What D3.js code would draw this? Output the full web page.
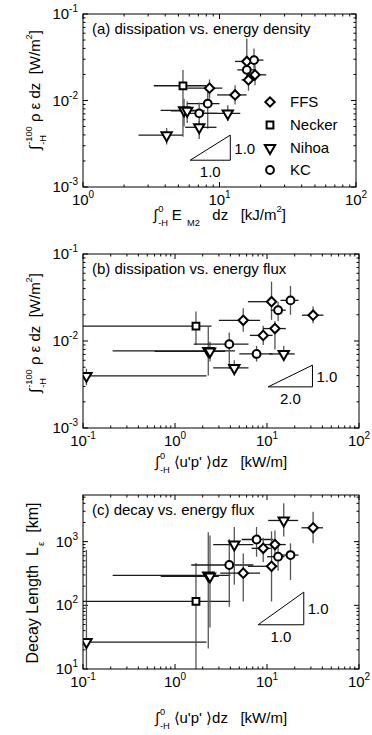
<!DOCTYPE html>
<html>
<head>
<meta charset="utf-8">
<script src="https://cdn.jsdelivr.net/npm/d3@7"></script>
<style>
body { margin: 0; background: #fff; }
svg { font-family: "Liberation Sans", Arial, sans-serif; }
text { white-space: pre; }
</style>
</head>
<body>
<svg width="372" height="735"></svg>
<script>
// legend / site names
var sites = ["FFS", "Necker", "Nihoa", "KC"];

// one entry per station (15 stations)
var stationSite = ["Nihoa", "Necker", "Nihoa", "Nihoa", "KC", "Nihoa", "FFS", "KC", "FFS", "FFS", "Nihoa", "FFS", "KC", "KC", "FFS"];

// depth-integrated M2 energy density [kJ/m^2]
var energyDensity   = [4.1, 5.4, 5.5, 5.8, 8.2, 7.1, 16.3, 7.1, 13.0, 8.45, 11.5, 15.85, 17.9, 15.85, 18.2];
var energyDensityLo = [2.55, 3.3, 3.7, 4.4, 5.8, 5.6, 14.5, 5.4, 9.6, 5.8, 7.2, 13.0, 15.0, 13.5, 16.0];
var energyDensityHi = [5.4, 8.0, 7.3, 7.8, 10.0, 9.5, 18.5, 9.6, 15.8, 10.5, 14.2, 19.0, 21.0, 18.5, 22.0];

// depth-integrated dissipation [W/m^2]
var dissipation   = [0.00397, 0.0148, 0.0077, 0.0076, 0.0092, 0.0049, 0.0173, 0.0071, 0.0116, 0.0139, 0.0071, 0.0283, 0.0293, 0.0226, 0.0198];
var dissipationLoA = [0.0031, 0.0038, 0.0050, 0.0055, 0.0047, 0.0036, 0.0130, 0.0052, 0.0090, 0.0105, 0.0058, 0.0175, 0.022, 0.016, 0.015];
var dissipationHiA = [0.0048, 0.0225, 0.0105, 0.0098, 0.0130, 0.0058, 0.0225, 0.0095, 0.0150, 0.0175, 0.0088, 0.052, 0.040, 0.030, 0.026];
var dissipationLoB = [0.0031, 0.0090, 0.0040, 0.0058, 0.0048, 0.0040, 0.0128, 0.0058, 0.0090, 0.0080, 0.0060, 0.0175, 0.020, 0.017, 0.016];
var dissipationHiB = [0.0048, 0.0218, 0.0145, 0.0098, 0.0125, 0.0060, 0.0238, 0.0088, 0.0150, 0.0170, 0.0088, 0.048, 0.043, 0.028, 0.025];

// depth-integrated energy flux [kW/m]
var energyFlux    = [0.109, 1.69, 2.3, 2.4, 3.89, 4.41, 5.52, 7.7, 9.1, 12.2, 15.2, 11.2, 18.0, 13.2, 31.7];
var energyFluxLoB = [0.05, 0.05, 0.21, 0.6, 1.6, 2.6, 3.0, 5.0, 6.5, 9.0, 10.5, 6.2, 14.0, 11.0, 24.0];
var energyFluxHiB = [2.2, 2.5, 4.5, 3.5, 6.3, 6.3, 8.4, 11.5, 11.5, 16.0, 20.0, 12.0, 22.0, 16.0, 41.0];
var energyFluxLoC = [0.05, 0.05, 0.21, 0.7, 1.5, 2.6, 3.1, 5.3, 6.8, 9.0, 10.3, 6.2, 14.0, 10.0, 23.7];
var energyFluxHiC = [2.2, 4.0, 4.0, 3.0, 7.1, 7.1, 8.4, 11.7, 11.0, 16.0, 21.8, 13.0, 22.0, 15.5, 40.6];

// decay length [km]
var decayLength   = [26.5, 115, 295, 285, 430, 900, 320, 1080, 785, 900, 2150, 410, 615, 580, 1650];
var decayLengthLo = [5, 5, 21, 45, 95, 210, 115, 580, 480, 550, 1200, 115, 250, 350, 940];
var decayLengthHi = [740, 460, 1400, 1250, 1100, 1700, 650, 1700, 1150, 1500, 4000, 1450, 940, 900, 2950];

// slope triangles
var slopeAX = [6.1, 12.0],  slopeAY = [0.00204, 0.00398];
var slopeBX = [10.3, 31.2], slopeBY = [0.00297, 0.00528];
var slopeCX = [8.0, 25.1],  slopeCY = [49.5, 161];

var svg = d3.select("svg");

var symbolFor = {
  FFS:    {type: d3.symbolSquare,   size: 44, rot: 45},
  Necker: {type: d3.symbolSquare,   size: 46, rot: 0},
  Nihoa:  {type: d3.symbolTriangle, size: 46, rot: 180},
  KC:     {type: d3.symbolCircle,   size: 48, rot: 0}
};

// text with sub / superscripts; "stack" puts a superscript above the previous subscript
function rich(sel, parts, size) {
  var t = sel.append("text").attr("font-size", size);
  var level = 0, subW = 0;
  parts.forEach(function(p) {
    var kind = p[1] || "n";
    var target = kind === "sub" ? 6 : (kind === "sup" || kind === "stack") ? -8 : 0;
    var ts = t.append("tspan").text(p[0]).attr("dy", target - level);
    if (kind !== "n") ts.attr("font-size", size * 0.62);
    if (kind === "sub") ts.attr("dx", 1);
    if (kind === "stack") ts.attr("dx", -subW);
    var w = ts.node().getComputedTextLength();
    if (kind === "stack" && w < subW) t.append("tspan").text("").attr("dx", subW - w);
    subW = w;
    level = target;
  });
  if (level !== 0) t.append("tspan").text("").attr("dy", -level);
  return t;
}

function drawPanel(o) {
  var x = d3.scaleLog().domain(o.xDomain).range([o.left, o.right]);
  var y = d3.scaleLog().domain(o.yDomain).range([o.bottom, o.top]);
  var g = svg.append("g");

  g.append("clipPath").attr("id", "clip" + o.id)
    .append("rect").attr("x", o.left).attr("y", o.top)
    .attr("width", o.right - o.left).attr("height", o.bottom - o.top);

  // ticks (inside, all four sides)
  function isMajor(v) { var l = Math.log10(v); return Math.abs(l - Math.round(l)) < 1e-6; }
  x.ticks().forEach(function(v) {
    var len = isMajor(v) ? 5 : 2.5;
    g.append("line").attr("x1", x(v)).attr("x2", x(v)).attr("y1", o.bottom).attr("y2", o.bottom - len).attr("stroke", "#000");
    g.append("line").attr("x1", x(v)).attr("x2", x(v)).attr("y1", o.top).attr("y2", o.top + len).attr("stroke", "#000");
    if (isMajor(v)) {
      var e = Math.round(Math.log10(v));
      var lab = g.append("text").attr("x", x(v)).attr("y", o.bottom + 18)
        .attr("text-anchor", "middle").attr("font-size", 15);
      lab.append("tspan").text("10");
      lab.append("tspan").text(String(e)).attr("font-size", 10).attr("dy", -7);
    }
  });
  y.ticks().forEach(function(v) {
    var len = isMajor(v) ? 5 : 2.5;
    g.append("line").attr("y1", y(v)).attr("y2", y(v)).attr("x1", o.left).attr("x2", o.left + len).attr("stroke", "#000");
    g.append("line").attr("y1", y(v)).attr("y2", y(v)).attr("x1", o.right).attr("x2", o.right - len).attr("stroke", "#000");
    if (isMajor(v)) {
      var e = Math.round(Math.log10(v));
      var lab = g.append("text").attr("x", o.left - 5).attr("y", y(v) + 5)
        .attr("text-anchor", "end").attr("font-size", 15);
      lab.append("tspan").text("10");
      lab.append("tspan").text(String(e)).attr("font-size", 10).attr("dy", -7);
    }
  });

  // error bars
  var eb = g.append("g").attr("clip-path", "url(#clip" + o.id + ")");
  o.xs.forEach(function(xv, i) {
    var yv = o.ys[i];
    eb.append("line").attr("x1", x(o.xLo[i])).attr("x2", x(o.xHi[i]))
      .attr("y1", y(yv)).attr("y2", y(yv)).attr("stroke", "#1a1a1a").attr("stroke-width", 1.3);
    eb.append("line").attr("x1", x(xv)).attr("x2", x(xv))
      .attr("y1", y(o.yLo[i])).attr("y2", y(o.yHi[i])).attr("stroke", "#555").attr("stroke-width", 1.3);
  });

  // markers
  eb.selectAll("path.mk").data(o.xs).enter().append("path")
    .attr("class", "mk")
    .attr("d", function(d, i) { var s = symbolFor[stationSite[i]]; return d3.symbol().type(s.type).size(s.size)(); })
    .attr("transform", function(d, i) {
      return "translate(" + x(d) + "," + y(o.ys[i]) + ") rotate(" + symbolFor[stationSite[i]].rot + ")";
    })
    .attr("fill", "#fff").attr("stroke", "#000").attr("stroke-width", 2);

  // box
  g.append("rect").attr("x", o.left).attr("y", o.top)
    .attr("width", o.right - o.left).attr("height", o.bottom - o.top)
    .attr("fill", "none").attr("stroke", "#000").attr("stroke-width", 1);

  // title
  g.append("text").attr("x", o.left + 9).attr("y", o.top + 20).attr("font-size", 15).text(o.title);

  // slope triangle
  var sx = o.slopeX, sy = o.slopeY;
  g.append("path")
    .attr("d", "M" + x(sx[0]) + "," + y(sy[0]) + "L" + x(sx[1]) + "," + y(sy[1]) + "L" + x(sx[1]) + "," + y(sy[0]) + "Z")
    .attr("fill", "none").attr("stroke", "#000").attr("stroke-width", 1);
  g.append("text").attr("x", x(sx[1]) + 4).attr("y", (y(sy[0]) + y(sy[1])) / 2 + 6)
    .attr("font-size", 15).text(o.slopeLabels[0]);
  g.append("text").attr("x", (x(sx[0]) + x(sx[1])) / 2).attr("y", y(sy[0]) + 17)
    .attr("text-anchor", "middle").attr("font-size", 15).text(o.slopeLabels[1]);

  // axis labels
  rich(g, o.xLabel, 15).attr("x", (o.left + o.right) / 2).attr("y", o.xLabelY).attr("text-anchor", "middle");
  rich(g.append("g").attr("transform", "translate(" + o.yLabelX + "," + o.yLabelY + ") rotate(-90)"), o.yLabel, o.yLabelSize || 15)
    .attr("text-anchor", "middle");

  return {x: x, y: y, g: g};
}

var dissLabel = [["\u222B"], ["-H", "sub"], ["-100", "stack"], [" \u03C1 \u03B5 dz  [W/m"], ["2", "sup"], ["]"]];
var fluxLabel = [["\u222B"], ["-H", "sub"], ["0", "stack"], ["  \u27E8u'p' \u27E9dz   [kW/m]"]];

var pa = drawPanel({
  id: "a", left: 83, right: 356, top: 14, bottom: 187,
  xDomain: [1, 100], yDomain: [1e-3, 1e-1],
  xs: energyDensity, xLo: energyDensityLo, xHi: energyDensityHi,
  ys: dissipation, yLo: dissipationLoA, yHi: dissipationHiA,
  title: "(a) dissipation vs. energy density",
  slopeX: slopeAX, slopeY: slopeAY, slopeLabels: ["1.0", "1.0"],
  xLabel: [["\u222B"], ["-H", "sub"], ["0", "stack"], ["  E "], ["M2", "sub"], ["   dz   [kJ/m"], ["2", "sup"], ["]"]],
  xLabelY: 220, yLabel: dissLabel, yLabelX: 40, yLabelY: 90
});

drawPanel({
  id: "b", left: 83, right: 359, top: 254, bottom: 428,
  xDomain: [0.1, 100], yDomain: [1e-3, 1e-1],
  xs: energyFlux, xLo: energyFluxLoB, xHi: energyFluxHiB,
  ys: dissipation, yLo: dissipationLoB, yHi: dissipationHiB,
  title: "(b) dissipation vs. energy flux",
  slopeX: slopeBX, slopeY: slopeBY, slopeLabels: ["1.0", "2.0"],
  xLabel: fluxLabel, xLabelY: 467, yLabel: dissLabel, yLabelX: 40, yLabelY: 333
});

drawPanel({
  id: "c", left: 83, right: 359, top: 495, bottom: 669,
  xDomain: [0.1, 100], yDomain: [10, 5400],
  xs: energyFlux, xLo: energyFluxLoC, xHi: energyFluxHiC,
  ys: decayLength, yLo: decayLengthLo, yHi: decayLengthHi,
  title: "(c) decay vs. energy flux",
  slopeX: slopeCX, slopeY: slopeCY, slopeLabels: ["1.0", "1.0"],
  xLabel: fluxLabel, xLabelY: 723,
  yLabel: [["Decay Length  L"], ["\u03B5", "sub"], ["  [km]"]], yLabelSize: 16, yLabelX: 38, yLabelY: 583
});

// legend in panel (a)
var leg = pa.g.append("g");
sites.forEach(function(s, i) {
  var yy = [102, 125, 148, 170][i];
  var sym = symbolFor[s];
  leg.append("path").attr("d", d3.symbol().type(sym.type).size(sym.size)())
    .attr("transform", "translate(270," + yy + ") rotate(" + sym.rot + ")")
    .attr("fill", "#fff").attr("stroke", "#000").attr("stroke-width", 2);
  leg.append("text").attr("x", 290).attr("y", yy + 5).attr("font-size", 15).text(s);
});
</script>
</body>
</html>
